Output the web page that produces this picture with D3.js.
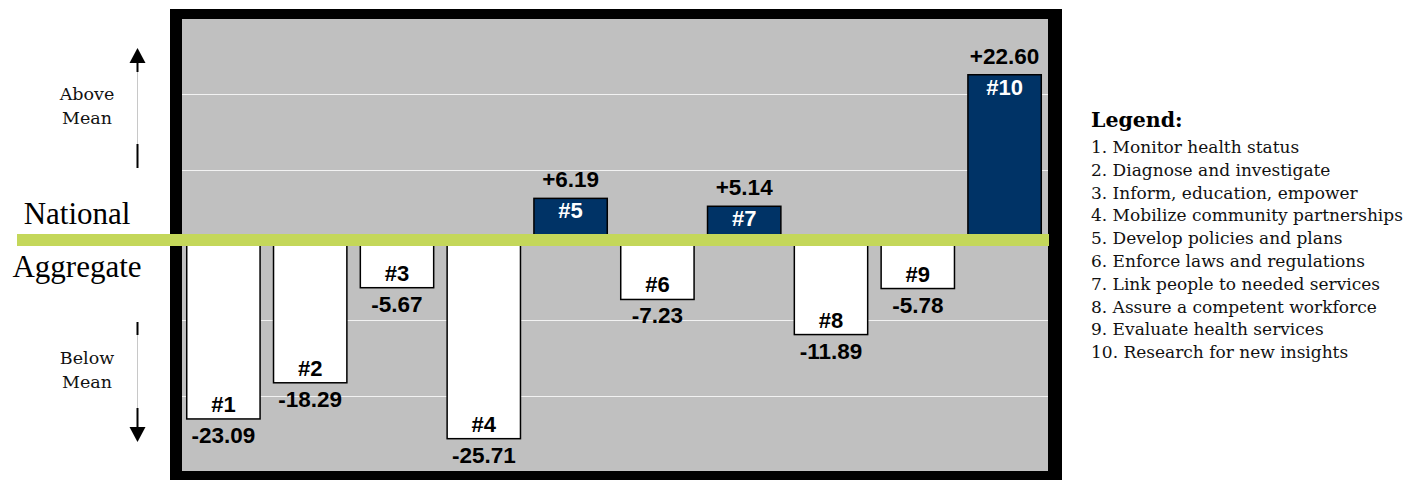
<!DOCTYPE html>
<html>
<head>
<meta charset="utf-8">
<script src="https://cdn.jsdelivr.net/npm/d3@7"></script>
<style>
  html, body { margin: 0; padding: 0; background: #ffffff; }
  svg { display: block; }
</style>
</head>
<body>
<svg id="chart" width="1423" height="480"></svg>
<script>
// ---- data ----
const categories = ["#1", "#2", "#3", "#4", "#5", "#6", "#7", "#8", "#9", "#10"];
const values = [-23.09, -18.29, -5.67, -25.71, 6.19, -7.23, 5.14, -11.89, -5.78, 22.60];
const valueLabels = ["-23.09", "-18.29", "-5.67", "-25.71", "+6.19", "-7.23", "+5.14", "-11.89", "-5.78", "+22.60"];
const gridTicks = [-20, -10, 10, 20];
const legendTitle = "Legend:";
const legendItems = [
  "1. Monitor health status",
  "2. Diagnose and investigate",
  "3. Inform, education, empower",
  "4. Mobilize community partnerships",
  "5. Develop policies and plans",
  "6. Enforce laws and regulations",
  "7. Link people to needed services",
  "8. Assure a competent workforce",
  "9. Evaluate health services",
  "10. Research for new insights"
];

const svg = d3.select("#chart");

// frame
const inner = { x0: 182, x1: 1048, y0: 19, y1: 471 };
svg.append("rect").attr("x", 170).attr("y", 9).attr("width", 892).attr("height", 474).attr("fill", "#000");
svg.append("rect").attr("x", inner.x0).attr("y", inner.y0)
  .attr("width", inner.x1 - inner.x0).attr("height", inner.y1 - inner.y0).attr("fill", "#c0c0c0");

const x = d3.scaleBand().domain(categories).range([180, 1048]).paddingInner(0.155).paddingOuter(0.0775);
const y = d3.scaleLinear().domain([-30, 30]).range([inner.y1, inner.y0]);

// gridlines
svg.append("g").selectAll("line").data(gridTicks).join("line")
  .attr("x1", inner.x0).attr("x2", inner.x1)
  .attr("y1", d => Math.round(y(d)) + 0.5).attr("y2", d => Math.round(y(d)) + 0.5)
  .attr("stroke", "#f2f2f2").attr("stroke-width", 1);

// bars
const data = categories.map((c, i) => ({ c, v: values[i], lab: valueLabels[i] }));
svg.append("g").selectAll("rect").data(data).join("rect")
  .attr("x", d => x(d.c)).attr("width", x.bandwidth())
  .attr("y", d => y(Math.max(0, d.v)))
  .attr("height", d => Math.abs(y(d.v) - y(0)))
  .attr("fill", d => d.v >= 0 ? "#003366" : "#ffffff")
  .attr("stroke", "#000").attr("stroke-width", 1.5);

const font = "'Liberation Sans', Arial, sans-serif";
// category labels inside bars
svg.append("g").selectAll("text").data(data).join("text")
  .attr("x", d => x(d.c) + x.bandwidth() / 2)
  .attr("y", d => d.v >= 0 ? y(d.v) + 20 : y(d.v) - 7)
  .attr("text-anchor", "middle")
  .attr("font-family", font).attr("font-weight", "bold").attr("font-size", 22)
  .attr("fill", d => d.v >= 0 ? "#ffffff" : "#000000")
  .text(d => d.c);
// value labels
svg.append("g").selectAll("text").data(data).join("text")
  .attr("x", d => x(d.c) + x.bandwidth() / 2)
  .attr("y", d => d.v >= 0 ? y(d.v) - 11 : y(d.v) + 24)
  .attr("text-anchor", "middle")
  .attr("font-family", font).attr("font-weight", "bold").attr("font-size", 22.5)
  .attr("fill", "#000")
  .text(d => d.lab);

// national aggregate line
svg.append("rect").attr("x", 17).attr("y", y(0) - 11).attr("width", 1032).attr("height", 12).attr("fill", "#c4d75a");

const serif = "'Liberation Serif', 'Times New Roman', serif";
svg.append("text").attr("x", 77).attr("y", 224).attr("text-anchor", "middle")
  .attr("font-family", serif).attr("font-size", 31).attr("fill", "#000").text("National");
svg.append("text").attr("x", 77).attr("y", 277).attr("text-anchor", "middle")
  .attr("font-family", serif).attr("font-size", 31).attr("fill", "#000").text("Aggregate");

// above / below labels
const serif2 = "'DejaVu Serif', serif";
[["Above", 100], ["Mean", 124], ["Below", 364], ["Mean", 388]].forEach(([t, yy]) => {
  svg.append("text").attr("x", 87).attr("y", yy).attr("text-anchor", "middle")
    .attr("font-family", serif2).attr("font-size", 17.5).attr("fill", "#111").text(t);
});

// arrows
const ax = 137.5;
const g = svg.append("g");
g.append("line").attr("x1", ax).attr("x2", ax).attr("y1", 63).attr("y2", 168).attr("stroke", "#c8c8c8").attr("stroke-width", 1);
g.append("line").attr("x1", ax).attr("x2", ax).attr("y1", 62).attr("y2", 72).attr("stroke", "#000").attr("stroke-width", 2);
g.append("line").attr("x1", ax).attr("x2", ax).attr("y1", 144).attr("y2", 168).attr("stroke", "#000").attr("stroke-width", 2);
g.append("path").attr("d", `M${ax},48 L${ax - 8},63 L${ax + 8},63 Z`).attr("fill", "#000");
g.append("line").attr("x1", ax).attr("x2", ax).attr("y1", 322).attr("y2", 428).attr("stroke", "#c8c8c8").attr("stroke-width", 1);
g.append("line").attr("x1", ax).attr("x2", ax).attr("y1", 322).attr("y2", 335).attr("stroke", "#000").attr("stroke-width", 2);
g.append("line").attr("x1", ax).attr("x2", ax).attr("y1", 408).attr("y2", 428).attr("stroke", "#000").attr("stroke-width", 2);
g.append("path").attr("d", `M${ax},442 L${ax - 8},427 L${ax + 8},427 Z`).attr("fill", "#000");

// legend
const lg = svg.append("g").attr("transform", "translate(1091,0)");
lg.append("text").attr("x", 0).attr("y", 127)
  .attr("font-family", serif2).attr("font-weight", "bold").attr("font-size", 20.5).attr("fill", "#000").text(legendTitle);
lg.selectAll("text.item").data(legendItems).join("text").attr("class", "item")
  .attr("x", 0).attr("y", (d, i) => 153 + i * 22.8)
  .attr("font-family", serif2).attr("font-size", 17).attr("fill", "#111").text(d => d);
</script>
</body>
</html>
